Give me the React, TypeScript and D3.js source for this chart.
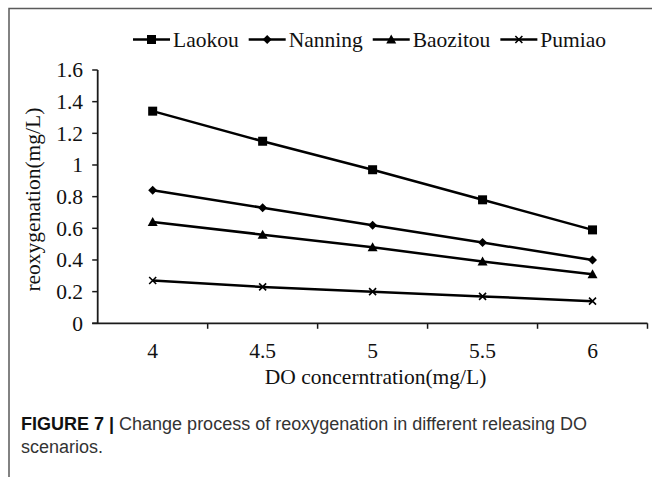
import React, { useRef, useEffect } from 'react';
import * as d3 from 'd3';

// values
const categories = ['4', '4.5', '5', '5.5', '6'];
const laokou = [1.34, 1.15, 0.97, 0.78, 0.59];
const nanning = [0.84, 0.73, 0.62, 0.51, 0.40];
const baozitou = [0.64, 0.56, 0.48, 0.39, 0.31];
const pumiao = [0.27, 0.23, 0.20, 0.17, 0.14];
const yTicks = [0, 0.2, 0.4, 0.6, 0.8, 1, 1.2, 1.4, 1.6];

const seriesNames = ['Laokou', 'Nanning', 'Baozitou', 'Pumiao'];
const seriesValues = [laokou, nanning, baozitou, pumiao];
const markerKinds = ['square', 'diamond', 'triangle', 'cross'];

const W = 652;
const H = 477;
const serif = '"Liberation Serif", "Times New Roman", serif';
const sans = '"Liberation Sans", Arial, Helvetica, sans-serif';

const drawMarker = (g: any, kind: string, cx: number, cy: number) => {
  if (kind === 'square') {
    g.append('rect')
      .attr('x', cx - 4.5).attr('y', cy - 4.5)
      .attr('width', 9).attr('height', 9)
      .attr('fill', '#000');
  } else if (kind === 'diamond') {
    g.append('path')
      .attr('d', `M${cx},${cy - 4.5}L${cx + 4.5},${cy}L${cx},${cy + 4.5}L${cx - 4.5},${cy}Z`)
      .attr('fill', '#000');
  } else if (kind === 'triangle') {
    g.append('path')
      .attr('d', `M${cx},${cy - 5}L${cx + 5},${cy + 4}L${cx - 5},${cy + 4}Z`)
      .attr('fill', '#000');
  } else {
    g.append('path')
      .attr('d', `M${cx - 3.5},${cy - 3.5}L${cx + 3.5},${cy + 3.5}M${cx + 3.5},${cy - 3.5}L${cx - 3.5},${cy + 3.5}`)
      .attr('stroke', '#000')
      .attr('stroke-width', 1.6)
      .attr('fill', 'none');
  }
};

const App: React.FC = () => {
  const svgRef = useRef<SVGSVGElement>(null);

  useEffect(() => {
    if (!svgRef.current) return;
    document.body.style.margin = '0';

    const svg = d3.select(svgRef.current);
    svg.selectAll('*').remove();

    svg.append('rect').attr('width', W).attr('height', H).attr('fill', '#fff');

    // outer frame (only top/left edges fall inside the picture)
    svg.append('rect')
      .attr('x', 9).attr('y', 8.5)
      .attr('width', W + 20).attr('height', H + 20)
      .attr('fill', 'none')
      .attr('stroke', '#5a5a5a')
      .attr('stroke-width', 1.5);

    const left = 97.7;
    const right = 647.5;
    const top = 70;
    const bottom = 323.3;

    const x = d3.scaleBand<string>().domain(categories).range([left, right]).padding(0);
    const y = d3.scaleLinear().domain([0, 1.6]).range([bottom, top]);

    const axisColor = '#1a1a1a';

    // y axis
    svg.append('line')
      .attr('x1', left).attr('x2', left)
      .attr('y1', y(1.6)).attr('y2', bottom)
      .attr('stroke', axisColor).attr('stroke-width', 1.8);
    yTicks.forEach(t => {
      svg.append('line')
        .attr('x1', left - 5.5).attr('x2', left)
        .attr('y1', y(t)).attr('y2', y(t))
        .attr('stroke', axisColor).attr('stroke-width', 1.5);
      svg.append('text')
        .attr('x', 83).attr('y', y(t))
        .attr('dy', '0.34em')
        .attr('text-anchor', 'end')
        .attr('font-family', serif)
        .attr('font-size', 21.5)
        .attr('fill', '#111')
        .text(d3.format('~g')(t));
    });

    // x axis
    svg.append('line')
      .attr('x1', left - 5.5).attr('x2', right)
      .attr('y1', bottom).attr('y2', bottom)
      .attr('stroke', axisColor).attr('stroke-width', 1.8);
    categories.forEach(c => {
      const xe = (x(c) || 0) + x.bandwidth();
      svg.append('line')
        .attr('x1', xe).attr('x2', xe)
        .attr('y1', bottom).attr('y2', bottom + 5.5)
        .attr('stroke', axisColor).attr('stroke-width', 1.5);
      svg.append('text')
        .attr('x', (x(c) || 0) + x.bandwidth() / 2)
        .attr('y', 358)
        .attr('text-anchor', 'middle')
        .attr('font-family', serif)
        .attr('font-size', 21.5)
        .attr('fill', '#111')
        .text(c);
    });

    // axis titles
    svg.append('text')
      .attr('x', (left + right) / 2 + 3)
      .attr('y', 384)
      .attr('text-anchor', 'middle')
      .attr('font-family', serif)
      .attr('font-size', 21.5)
      .attr('fill', '#111')
      .text('DO concerntration(mg/L)');

    svg.append('text')
      .attr('transform', `translate(40,${(top + bottom) / 2 + 3}) rotate(-90)`)
      .attr('text-anchor', 'middle')
      .attr('font-family', serif)
      .attr('font-size', 21.5)
      .attr('fill', '#111')
      .text('reoxygenation(mg/L)');

    // series
    const cx = (c: string) => (x(c) || 0) + x.bandwidth() / 2;
    const line = d3.line<number>()
      .x((d, i) => cx(categories[i]))
      .y(d => y(d));

    seriesValues.forEach((vals, si) => {
      const g = svg.append('g');
      g.append('path')
        .datum(vals)
        .attr('fill', 'none')
        .attr('stroke', '#000')
        .attr('stroke-width', 2.5)
        .attr('d', line);
      vals.forEach((v, i) => drawMarker(g, markerKinds[si], cx(categories[i]), y(v)));
    });

    // legend
    const legendY = 39.5;
    let lx = 133;
    seriesNames.forEach((name, si) => {
      const g = svg.append('g');
      g.append('line')
        .attr('x1', lx).attr('x2', lx + 37)
        .attr('y1', legendY).attr('y2', legendY)
        .attr('stroke', '#000').attr('stroke-width', 2.5);
      drawMarker(g, markerKinds[si], lx + 18.5, legendY);
      const t = g.append('text')
        .attr('x', lx + 40)
        .attr('y', legendY + 7)
        .attr('font-family', serif)
        .attr('font-size', 21.5)
        .attr('fill', '#111')
        .text(name);
      const tw = (t.node() as SVGTextElement).getComputedTextLength();
      lx = lx + 40 + tw + 10;
    });

    // caption
    const cap = svg.append('text')
      .attr('x', 21)
      .attr('y', 430)
      .attr('font-family', sans)
      .attr('font-size', 18)
      .attr('fill', '#333');
    cap.append('tspan').attr('font-weight', 'bold').attr('fill', '#111').text('FIGURE 7 | ');
    cap.append('tspan').text('Change process of reoxygenation in different releasing DO');
    svg.append('text')
      .attr('x', 21)
      .attr('y', 453)
      .attr('font-family', sans)
      .attr('font-size', 18)
      .attr('fill', '#333')
      .text('scenarios.');
  }, []);

  return (
    <div style={{ position: 'absolute', left: 0, top: 0 }}>
      <svg ref={svgRef} width={W} height={H} style={{ display: 'block' }} />
    </div>
  );
};

export default App;
